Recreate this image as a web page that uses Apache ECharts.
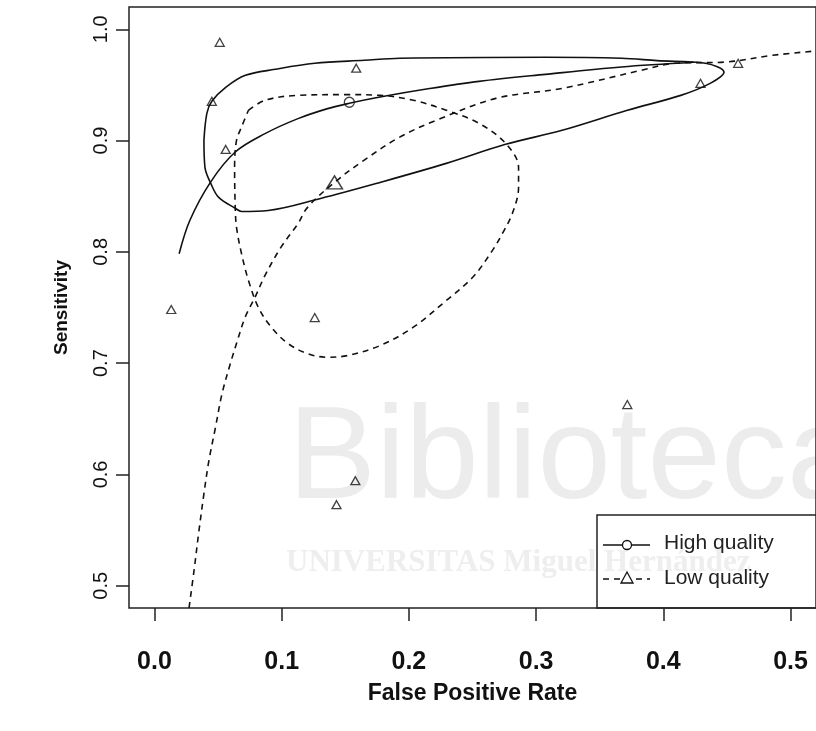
<!DOCTYPE html>
<html>
<head>
<meta charset="utf-8">
<script src="https://cdn.jsdelivr.net/npm/echarts@6/dist/echarts.min.js"></script>
<style>
  html, body { margin: 0; padding: 0; background: #fff; }
  #chart { width: 816px; height: 731px; }
</style>
</head>
<body>
<div id="chart"></div>
<script>
// Tick positions
const xTicks = [0.0, 0.1, 0.2, 0.3, 0.4, 0.5];
const yTicks = [0.5, 0.6, 0.7, 0.8, 0.9, 1.0];

// Low quality studies: [false positive rate, sensitivity]
const lowStudies = [
  [0.0513, 0.9883], [0.0451, 0.9353], [0.0560, 0.8920], [0.1586, 0.9650],
  [0.0132, 0.7482], [0.1260, 0.7410], [0.1579, 0.5944], [0.1431, 0.5728],
  [0.3717, 0.6628], [0.4292, 0.9514], [0.4588, 0.9694]
];

// Summary estimates
const highSummary = [[0.1532, 0.9344]];
const lowSummary = [[0.1415, 0.8624]];

// SROC curves
const highSroc = [
  [0.0194, 0.7983], [0.0278, 0.8282], [0.0441, 0.8627], [0.0635, 0.8897],
  [0.0869, 0.9062], [0.1128, 0.9197], [0.1361, 0.9287], [0.1532, 0.9335],
  [0.1773, 0.9391], [0.2162, 0.9467], [0.2551, 0.9532], [0.3072, 0.9595],
  [0.3670, 0.9661], [0.4238, 0.9703]
];
const lowSroc = [
  [0.0272, 0.4802], [0.0311, 0.5135], [0.0350, 0.5495], [0.0389, 0.5827],
  [0.0428, 0.6124], [0.0480, 0.6424], [0.0531, 0.6724], [0.0596, 0.6994],
  [0.0645, 0.7176], [0.0713, 0.7413], [0.0791, 0.7593], [0.0869, 0.7788],
  [0.0995, 0.8042], [0.1128, 0.8253], [0.1205, 0.8402], [0.1415, 0.8624],
  [0.1646, 0.8822], [0.1928, 0.9031], [0.2216, 0.9182], [0.2683, 0.9379],
  [0.3204, 0.9469], [0.3826, 0.9631], [0.4082, 0.9694], [0.4495, 0.9706],
  [0.4860, 0.9766], [0.5200, 0.9805]
];

// Confidence regions (closed outlines)
const highRegion = [
  [0.0389, 0.9002], [0.0412, 0.9245], [0.0451, 0.9353], [0.0560, 0.9478],
  [0.0715, 0.9586], [0.0949, 0.9640], [0.1260, 0.9694], [0.1649, 0.9721],
  [0.1928, 0.9739], [0.3072, 0.9748], [0.3670, 0.9739], [0.3950, 0.9718],
  [0.4331, 0.9694], [0.4477, 0.9613], [0.4368, 0.9514], [0.4137, 0.9406],
  [0.3717, 0.9272], [0.3204, 0.9092], [0.2760, 0.8966], [0.2294, 0.8795],
  [0.1773, 0.8624], [0.1306, 0.8480], [0.0894, 0.8372], [0.0684, 0.8363],
  [0.0638, 0.8390], [0.0505, 0.8489], [0.0443, 0.8615], [0.0397, 0.8759],
  [0.0389, 0.9002]
];
const lowRegion = [
  [0.0739, 0.9272], [0.0869, 0.9362], [0.1128, 0.9406], [0.1516, 0.9413],
  [0.1773, 0.9406], [0.2035, 0.9362], [0.2294, 0.9272], [0.2551, 0.9155],
  [0.2760, 0.8975], [0.2862, 0.8759], [0.2862, 0.8579], [0.2813, 0.8345],
  [0.2735, 0.8165], [0.2657, 0.8013], [0.2502, 0.7772], [0.2294, 0.7563],
  [0.2035, 0.7323], [0.1773, 0.7158], [0.1516, 0.7068], [0.1361, 0.7053],
  [0.1205, 0.7084], [0.1050, 0.7176], [0.0918, 0.7323], [0.0816, 0.7503],
  [0.0739, 0.7743], [0.0684, 0.7986], [0.0645, 0.8222], [0.0635, 0.8402],
  [0.0630, 0.8762], [0.0645, 0.9002], [0.0684, 0.9121], [0.0739, 0.9272]
];

const legendLabels = ['High quality', 'Low quality'];

const INK = '#111';
const sans = "'Liberation Sans', Arial, sans-serif";
const dash = [6, 5];

const chart = echarts.init(document.getElementById('chart'), null, { renderer: 'canvas' });

function lineSeries(name, data, dashed) {
  return {
    name: name, type: 'line', data: data, showSymbol: false, symbol: 'none',
    smooth: 0.35, silent: true, clip: true, z: 3,
    lineStyle: { color: INK, width: 1.6, type: dashed ? dash : 'solid' }
  };
}

chart.setOption({
  animation: false,
  backgroundColor: '#fff',
  grid: {
    left: 129, top: 7, right: -8, bottom: 123,
    show: true, borderColor: '#222', borderWidth: 1.5, backgroundColor: 'transparent'
  },
  xAxis: {
    type: 'value', min: -0.02, max: 0.52,
    splitLine: { show: false },
    axisLine: { show: false, onZero: false },
    axisTick: { show: true, inside: false, length: 13, customValues: xTicks,
                lineStyle: { color: '#222', width: 1.5 } },
    axisLabel: { customValues: xTicks, margin: 42, color: '#111',
                 fontFamily: sans, fontWeight: 'bold', fontSize: 25,
                 formatter: v => v.toFixed(1) },
    name: 'False Positive Rate', nameLocation: 'middle', nameGap: 74,
    nameTextStyle: { fontFamily: sans, fontWeight: 'bold', fontSize: 23, color: '#111' }
  },
  yAxis: {
    type: 'value', min: 0.48, max: 1.02,
    splitLine: { show: false },
    axisLine: { show: false, onZero: false },
    axisTick: { show: true, inside: false, length: 13, customValues: yTicks,
                lineStyle: { color: '#222', width: 1.5 } },
    axisLabel: { customValues: yTicks, rotate: 90, margin: 18, color: '#111',
                 fontFamily: sans, fontSize: 20,
                 formatter: v => v.toFixed(1) },
    name: 'Sensitivity', nameLocation: 'middle', nameGap: 58, nameRotate: 90,
    nameTextStyle: { fontFamily: sans, fontWeight: 'bold', fontSize: 19, color: '#111' }
  },
  graphic: [
    // faint library watermark
    { type: 'text', z: -10, silent: true,
      style: { x: 288, y: 528, text: 'Biblioteca', fill: '#ececec',
               font: '132px "Liberation Sans", Arial, sans-serif', textVerticalAlign: 'bottom' } },
    { type: 'text', z: -10, silent: true,
      style: { x: 286, y: 578, text: 'UNIVERSITAS Miguel Hernández', fill: '#eeeeee',
               font: 'bold 31px "Liberation Serif", serif', textVerticalAlign: 'bottom' } },
    // legend box
    { type: 'rect', z: 5, silent: true,
      shape: { x: 597, y: 515, width: 240, height: 93 },
      style: { fill: 'none', stroke: '#222', lineWidth: 1.5 } },
    { type: 'line', z: 5, silent: true,
      shape: { x1: 603, y1: 545, x2: 650, y2: 545 },
      style: { stroke: INK, lineWidth: 1.5 } },
    { type: 'circle', z: 6, silent: true,
      shape: { cx: 627, cy: 545, r: 4.5 },
      style: { fill: '#fff', stroke: INK, lineWidth: 1.3 } },
    { type: 'text', z: 6, silent: true,
      style: { x: 664, y: 543, text: legendLabels[0], fill: '#222',
               font: '21px "Liberation Sans", Arial, sans-serif', textVerticalAlign: 'middle' } },
    { type: 'line', z: 5, silent: true,
      shape: { x1: 603, y1: 579, x2: 650, y2: 579 },
      style: { stroke: INK, lineWidth: 1.5, lineDash: dash } },
    { type: 'polygon', z: 6, silent: true,
      shape: { points: [[621, 583], [633, 583], [627, 572]] },
      style: { fill: '#fff', stroke: INK, lineWidth: 1.3 } },
    { type: 'text', z: 6, silent: true,
      style: { x: 664, y: 578, text: legendLabels[1], fill: '#222',
               font: '21px "Liberation Sans", Arial, sans-serif', textVerticalAlign: 'middle' } }
  ],
  series: [
    lineSeries('High quality SROC', highSroc, false),
    lineSeries('High quality region', highRegion, false),
    lineSeries('Low quality SROC', lowSroc, true),
    lineSeries('Low quality region', lowRegion, true),
    {
      name: 'Low quality studies', type: 'scatter', data: lowStudies, silent: true, z: 4,
      symbol: 'triangle', symbolSize: [9, 8],
      itemStyle: { color: 'rgba(0,0,0,0)', borderColor: INK, borderWidth: 1.3 }
    },
    {
      name: 'Low quality summary', type: 'scatter', data: lowSummary, silent: true, z: 4,
      symbol: 'triangle', symbolSize: [16, 13],
      itemStyle: { color: 'rgba(0,0,0,0)', borderColor: INK, borderWidth: 1.4 }
    },
    {
      name: 'High quality summary', type: 'scatter', data: highSummary, silent: true, z: 4,
      symbol: 'circle', symbolSize: 10,
      itemStyle: { color: 'rgba(0,0,0,0)', borderColor: INK, borderWidth: 1.3 }
    }
  ]
});
</script>
</body>
</html>
